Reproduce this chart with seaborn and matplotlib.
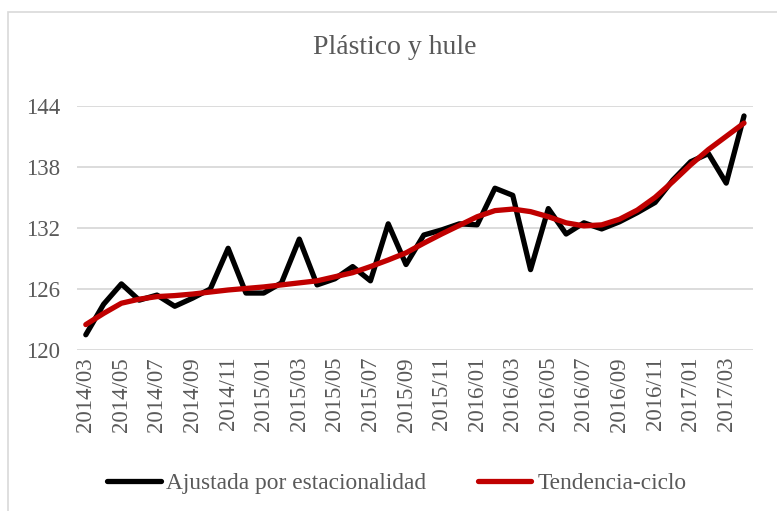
import matplotlib.pyplot as plt
import matplotlib.patches as mpatches
import pandas as pd
import seaborn as sns

# Serie mensual 2014/03 - 2017/04
meses = ['2014/03', '2014/04', '2014/05', '2014/06', '2014/07', '2014/08', '2014/09', '2014/10',
         '2014/11', '2014/12', '2015/01', '2015/02', '2015/03', '2015/04', '2015/05', '2015/06',
         '2015/07', '2015/08', '2015/09', '2015/10', '2015/11', '2015/12', '2016/01', '2016/02',
         '2016/03', '2016/04', '2016/05', '2016/06', '2016/07', '2016/08', '2016/09', '2016/10',
         '2016/11', '2016/12', '2017/01', '2017/02', '2017/03', '2017/04']

ajustada = [121.5, 124.5, 126.5, 124.9, 125.4, 124.3, 125.1, 126.0,
            130.0, 125.6, 125.6, 126.6, 130.9, 126.4, 127.0, 128.2,
            126.8, 132.4, 128.4, 131.3, 131.8, 132.4, 132.3, 135.9,
            135.2, 127.9, 133.9, 131.4, 132.5, 131.9, 132.6, 133.5,
            134.5, 136.7, 138.5, 139.3, 136.4, 143.0]

tendencia = [122.5, 123.6, 124.6, 125.0, 125.25, 125.35, 125.5, 125.7,
             125.9, 126.05, 126.2, 126.4, 126.6, 126.8, 127.2, 127.6,
             128.2, 128.85, 129.55, 130.5, 131.4, 132.25, 133.1, 133.7,
             133.85, 133.6, 133.1, 132.5, 132.2, 132.3, 132.85, 133.75,
             135.0, 136.55, 138.2, 139.7, 141.0, 142.3]

y_ticks = [120, 126, 132, 138, 144]

df = pd.DataFrame({'pos': range(len(meses)), 'mes': meses,
                   'Ajustada por estacionalidad': ajustada,
                   'Tendencia-ciclo': tendencia})

sns.set_style('white')
plt.rcParams['font.family'] = ['Liberation Serif', 'DejaVu Serif']
gris = '#595959'

fig = plt.figure(figsize=(7.77, 5.11), dpi=100)
ax = fig.add_axes([0.099, 0.315, 0.870, 0.478])

sns.lineplot(data=df, x='pos', y='Ajustada por estacionalidad', color='black', lw=3.8,
             ax=ax, label='Ajustada por estacionalidad', clip_on=False)
sns.lineplot(data=df, x='pos', y='Tendencia-ciclo', color='#C00000', lw=3.8,
             ax=ax, label='Tendencia-ciclo', clip_on=False)

ax.set_xlim(-0.5, len(meses) - 0.5)
ax.set_ylim(120, 144)
ax.set_yticks(y_ticks)
ax.set_xticks(range(0, len(meses), 2))
ax.set_xticklabels(meses[::2], rotation=90)
ax.set_xlabel('')
ax.set_ylabel('')
ax.grid(axis='y', color='#D9D9D9', lw=1.3)
for s in ax.spines.values():
    s.set_visible(False)
ax.tick_params(axis='y', length=0, pad=12, labelsize=16.5, labelcolor=gris)
ax.tick_params(axis='x', length=0, pad=5, labelsize=16.5, labelcolor=gris)

fig.text(395 / 777, 1 - 47 / 511, 'Plástico y hule', fontsize=20, color=gris,
         ha='center', va='center')

ax.legend(loc='center', bbox_to_anchor=(0.473, -0.545), ncol=2, frameon=False,
          fontsize=16.8, handlelength=2.3, handletextpad=0.25, columnspacing=2.2,
          labelcolor=gris)

# borde del area del grafico (solo visible arriba y a la izquierda)
fig.patches.append(mpatches.Rectangle((8 / 777, -0.05), 1.0, 1.05 - 12 / 511,
                                      transform=fig.transFigure, fill=False,
                                      edgecolor='#D9D9D9', lw=1.2))

fig.savefig('out.png', dpi=100)
